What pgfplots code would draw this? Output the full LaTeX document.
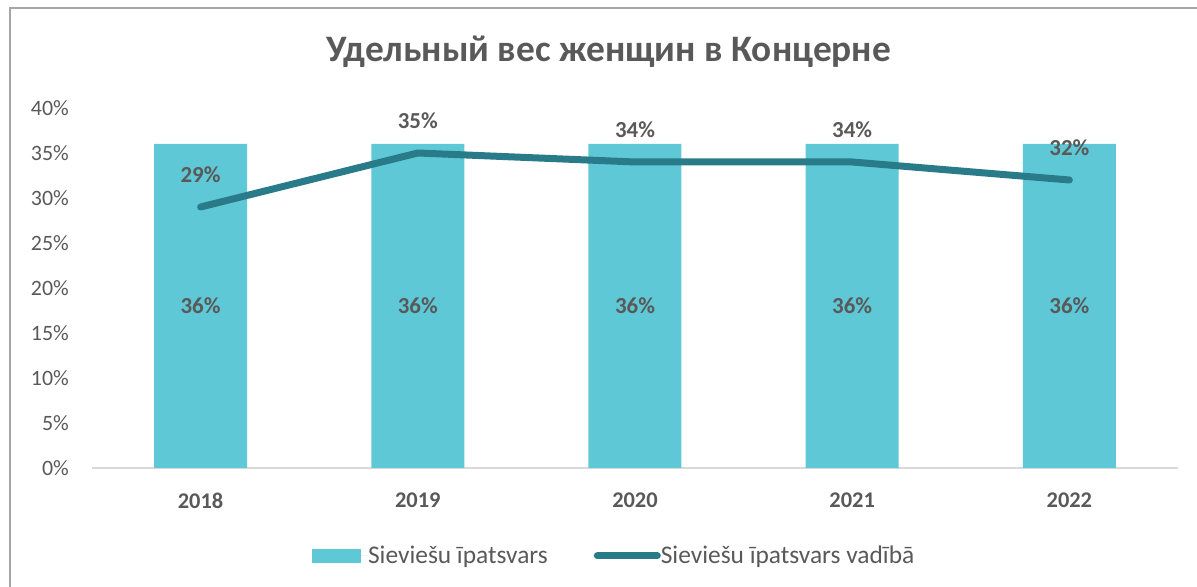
\documentclass[border=0pt]{standalone}
\usepackage{fontspec}
\setmainfont{Carlito}
\usepackage{pgfplots}
\pgfplotsset{compat=1.18}
\definecolor{barc}{HTML}{5EC8D6}
\definecolor{linec}{HTML}{2A7B89}
\definecolor{txt}{HTML}{595959}
\definecolor{framec}{HTML}{A6A6A6}
\definecolor{axc}{HTML}{D9D9D9}
\begin{document}
\begin{tikzpicture}[x=1bp,y=1bp]
\useasboundingbox (0,0) rectangle (1197,587);
\draw[framec, line width=1.5bp] (10,0) -- (10,579) -- (1197,579);
\node[txt, font=\fontsize{37.5}{44}\selectfont\bfseries] at (609,535) {Удельный вес женщин в Концерне};
\begin{axis}[
  at={(92bp,119bp)}, anchor=south west,
  scale only axis, width=1086bp, height=360bp,
  xmin=-0.5, xmax=4.5, ymin=0, ymax=40,
  axis x line*=bottom, axis y line*=left,
  y axis line style={draw=none},
  x axis line style={draw=axc, line width=1.5bp, -},
  xtick={0,1,2,3,4},
  xticklabels={2018,2019,2020,2021,2022},
  major tick length=8bp,
  xtick style={draw=none},
  ytick style={draw=none},
  extra x ticks={-0.5,0.5,1.5,2.5,3.5,4.5},
  extra x tick labels={},
  extra x tick style={tick align=outside, tick style={draw=axc, line width=1.5bp}},
  ytick={0,5,...,40},
  yticklabel={\pgfmathparse{int(\tick)}\pgfmathresult\%},
  yticklabel style={anchor=east, inner sep=0pt, xshift=-23bp, font=\fontsize{22}{26}\selectfont, text=txt},
  xticklabel style={anchor=north, inner sep=0pt, yshift=-25bp, font=\fontsize{22.5}{26}\selectfont\bfseries, text=txt},
  legend columns=2,
  legend style={at={(0.480,-0.244)}, anchor=center, draw=none, fill=none,
    font=\fontsize{25.5}{30}\selectfont, text=txt,
    /tikz/every even column/.append style={column sep=46bp},
    nodes={inner sep=0pt}},
]
\addplot[ybar, bar width=93bp, fill=barc, draw=none,
  nodes near coords={\pgfmathprintnumber[assume math mode=true]{\pgfplotspointmeta}\%},
  every node near coord/.append style={anchor=center, yshift=-162bp, font=\fontsize{23}{27}\selectfont\bfseries, text=txt},
  legend image code/.code={\fill[barc] (0bp,-7bp) rectangle (49bp,7bp); \path (0bp,0bp) -- (56bp,0bp);}]
  coordinates {(0,36) (1,36) (2,36) (3,36) (4,36)};
\addlegendentry{Sieviešu īpatsvars}
\addplot[linec, line width=7bp, line cap=round, line join=round, mark=none,
  nodes near coords={\pgfmathprintnumber[assume math mode=true]{\pgfplotspointmeta}\%},
  every node near coord/.append style={anchor=center, yshift=32bp, font=\fontsize{23}{27}\selectfont\bfseries, text=txt},
  legend image code/.code={\draw[linec, line width=6.5bp, line cap=round] (3.25bp,0bp) -- (53.75bp,0bp); \path (0bp,0bp) -- (60bp,0bp);}]
  coordinates {(0,29) (1,35) (2,34) (3,34) (4,32)};
\addlegendentry{Sieviešu īpatsvars vadībā}
\end{axis}
\end{tikzpicture}
\end{document}
